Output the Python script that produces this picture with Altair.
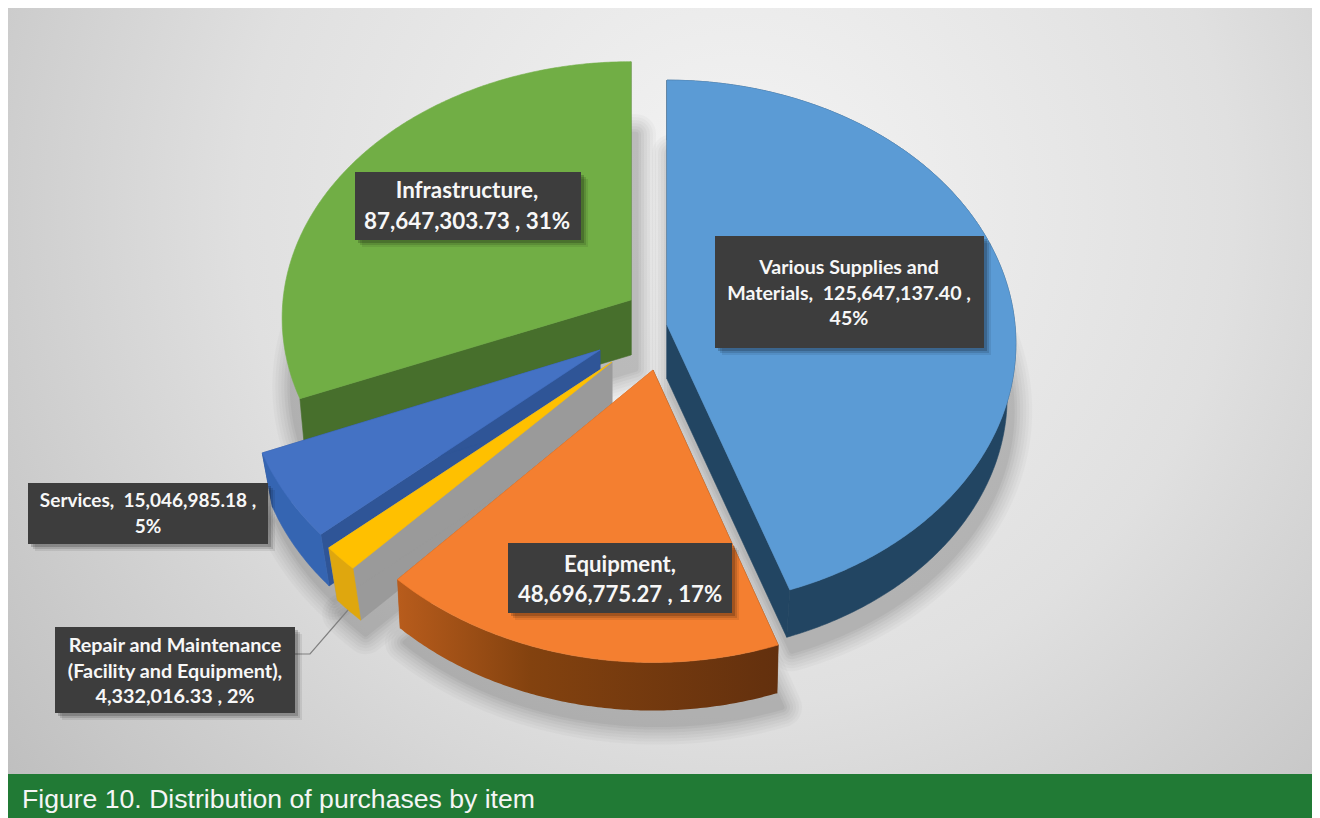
import math
import altair as alt

# ---- chart values -------------------------------------------------------
categories = ["Various Supplies and Materials", "Equipment",
              "Repair and Maintenance (Facility and Equipment)", "Services", "Infrastructure"]
values = [125647137.40, 48696775.27, 4332016.33, 15046985.18, 87647303.73]

label_lines = [
    ["Various Supplies and", "Materials,\u00a0 125,647,137.40 ,", "45%"],
    ["Equipment,", "48,696,775.27 , 17%"],
    ["Repair and Maintenance", "(Facility and Equipment),", "4,332,016.33 , 2%"],
    ["Services,\u00a0 15,046,985.18 ,", "5%"],
    ["Infrastructure,", "87,647,303.73 , 31%"],
]
caption = "Figure 10. Distribution of purchases by item"

# ---- layout and style (page pixels), one entry per slice ------------------
OX, OY = 8, 8
W, H = 1304, 810
apex = [(667, 325), (653, 370), (612, 362), (600, 350), (631, 300)]
radius = [(348, 262), (355, 272), (360, 268), (355, 266), (348, 255)]
depth = [54, 51, 58, 57, 55]
shrink = [0.975, 0.99, 0.97, 0.97, 0.985]
top_fill = ["#5b9bd5", "#f47f30", "#ffc000", "#4472c4", "#71ae45"]
arc_fill = [
    "#224562",
    {"gradient": "linear", "x1": 0, "x2": 1, "y1": 0, "y2": 0,
     "stops": [{"offset": 0, "color": "#b85c1c"}, {"offset": 0.35, "color": "#83420f"},
               {"offset": 1, "color": "#63300e"}]},
    "#dfa70e", "#3565b2", None,
]
cut_a_fill = ["#224562", "#63300e", "#9a9a9a", "#2f5597", "#476f2c"]  # edge at slice start
cut_b_fill = ["#224562", "#b85c1c", "#9a9a9a", "#2f5597", "#476f2c"]  # edge at slice end
P = 0.07
box_fill = "#3d3d3d"
boxes = [(715, 984, 236, 348), (508, 732, 543, 613), (55, 295, 627, 713),
         (28, 268, 483, 544), (355, 581, 172, 240)]
line_y = [[268, 294, 319], [565, 595], [646, 672, 697], [501, 527], [191, 222]]
center_x = [849, 620, 175, 148, 467]
font_size = [19.6, 22.2, 19.8, 19, 22.4]
leader = [(295, 654), (310, 654), (348, 610)]
draw_order = [4, 3, 2, 1, 0]
shadow_steps = [(40, 0.018), (34, 0.02), (28, 0.022), (22, 0.025), (16, 0.03), (10, 0.035), (5, 0.04)]

PROJ = dict(type="identity", scale=1, translate=[0, 0])


def pt(i, deg):
    """Project an angle (clockwise from 12 o'clock) of slice i to the picture, relative to its apex."""
    t = math.radians(deg)
    X, Y = math.sin(t), -math.cos(t)
    s = 1 / (1 - P * Y)
    return radius[i][0] * X * s, radius[i][1] * Y * s


def feature(points, dx=0, dy=0):
    ring = [[p[0] - OX + dx, p[1] - OY + dy] for p in points]
    ring.append(ring[0])
    return {"type": "Feature", "properties": {},
            "geometry": {"type": "Polygon", "coordinates": [ring]}}


def shape(points, fill, dx=0, dy=0):
    stroke = fill if isinstance(fill, str) else None
    kw = {"stroke": stroke, "strokeWidth": 0.6} if stroke else {"strokeWidth": 0}
    return (alt.Chart(alt.Data(values=[feature(points, dx, dy)]))
            .mark_geoshape(fill=fill, **kw).project(**PROJ))


total = sum(values)
starts, ends = [], []
acc = 0.0
for v in values:
    starts.append(acc)
    acc += v / total * 360
    ends.append(acc)


def top_outline(i):
    n = max(2, int(ends[i] - starts[i]) * 2)
    ax, ay = apex[i]
    return [(ax + pt(i, starts[i] + (ends[i] - starts[i]) * k / n)[0],
             ay + pt(i, starts[i] + (ends[i] - starts[i]) * k / n)[1]) for k in range(n + 1)]


def low(i, p):
    ax, ay = apex[i]
    return (ax + (p[0] - ax) * shrink[i], ay + (p[1] - ay) * shrink[i] + depth[i])


layers = []

# page background
bg = {"gradient": "radial", "x1": 0.56, "y1": 0.36, "r1": 0, "x2": 0.56, "y2": 0.36, "r2": 0.76,
      "stops": [{"offset": 0, "color": "#f4f4f4"}, {"offset": 0.5, "color": "#e0e0e0"},
                {"offset": 1, "color": "#bababa"}]}
layers.append(alt.Chart(alt.Data(values=[{"a": 1}])).mark_rect(fill=bg).encode(
    x=alt.value(0), x2=alt.value(W), y=alt.value(0), y2=alt.value(766)))

# soft shadow under the slices
for width_, op in shadow_steps:
    for i in draw_order:
        pts = top_outline(i)
        base = [low(i, apex[i])] + [low(i, p) for p in pts]
        layers.append(alt.Chart(alt.Data(values=[feature(base, 5, 14)]))
                      .mark_geoshape(fill="#000000", stroke="#000000", strokeWidth=width_,
                                     strokeJoin="round", opacity=op)
                      .project(**PROJ))

# slices, back to front
for i in draw_order:
    pts = top_outline(i)
    a = apex[i]
    first, last = pts[0], pts[-1]
    layers.append(shape([a, first, low(i, first), low(i, a)], cut_a_fill[i]))
    layers.append(shape([a, last, low(i, last), low(i, a)], cut_b_fill[i]))
    if arc_fill[i] is not None:
        layers.append(shape(pts + [low(i, p) for p in reversed(pts)], arc_fill[i]))
    layers.append(shape([a] + pts, top_fill[i]))

# leader line of the small slice
layers.append(alt.Chart(alt.Data(values=[{"x": p[0] - OX, "y": p[1] - OY, "k": n}
                                         for n, p in enumerate(leader)]))
              .mark_line(color="#808080", strokeWidth=1.2)
              .encode(x=alt.X("x:Q", scale=None, axis=None), y=alt.Y("y:Q", scale=None, axis=None),
                      order="k:Q"))

# label boxes with their shadow, and the label text
for off, op in [(7, 0.08), (5, 0.12), (3, 0.18)]:
    layers.append(alt.Chart(alt.Data(values=[
        {"x": b[0] - OX + off, "x2": b[1] - OX + off, "y": b[2] - OY + off, "y2": b[3] - OY + off}
        for b in boxes])).mark_rect(color="#000000", opacity=op).encode(
        x=alt.X("x:Q", scale=None, axis=None), x2="x2:Q",
        y=alt.Y("y:Q", scale=None, axis=None), y2="y2:Q"))
layers.append(alt.Chart(alt.Data(values=[
    {"x": b[0] - OX, "x2": b[1] - OX, "y": b[2] - OY, "y2": b[3] - OY} for b in boxes]))
    .mark_rect(color=box_fill).encode(
    x=alt.X("x:Q", scale=None, axis=None), x2="x2:Q",
    y=alt.Y("y:Q", scale=None, axis=None), y2="y2:Q"))

for i, lines in enumerate(label_lines):
    rows = [{"x": center_x[i] - OX, "y": yy - OY, "t": s} for s, yy in zip(lines, line_y[i])]
    layers.append(alt.Chart(alt.Data(values=rows))
                  .mark_text(font="Lato", fontWeight="bold", fontSize=font_size[i], color="#f7f7f7",
                             align="center", baseline="middle")
                  .encode(x=alt.X("x:Q", scale=None, axis=None), y=alt.Y("y:Q", scale=None, axis=None),
                          text="t:N"))

# caption band
layers.append(alt.Chart(alt.Data(values=[{"a": 1}])).mark_rect(color="#217a35").encode(
    x=alt.value(0), x2=alt.value(W), y=alt.value(766), y2=alt.value(H)))
layers.append(alt.Chart(alt.Data(values=[{"t": caption}]))
              .mark_text(font="Liberation Sans", fontSize=26.6, color="#f5f5f5", align="left",
                         baseline="alphabetic")
              .encode(x=alt.value(14), y=alt.value(800), text="t:N"))

chart = (alt.layer(*layers)
         .properties(width=W, height=H, padding=0, autosize="none", background="white")
         .configure_view(strokeWidth=0))

chart.save("out.html", embed_options={"renderer": "svg", "actions": False})
